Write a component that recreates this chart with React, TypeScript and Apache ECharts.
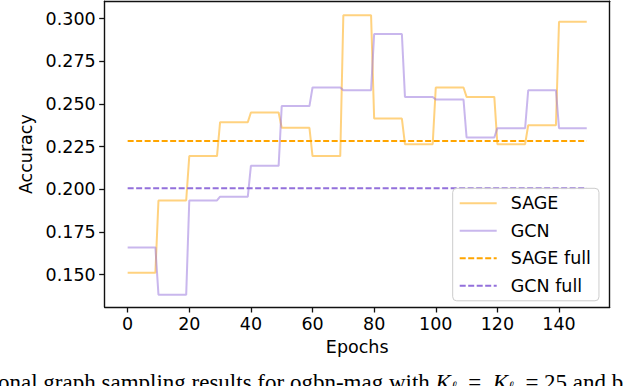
import React, { useEffect, useRef } from "react";
import * as echarts from "echarts";

const blockStarts = [0, 10, 20, 30, 40, 50, 60, 70, 80, 90, 100, 110, 120, 130, 140];
const blockLast = 9;
const sageValues = [0.151, 0.1934, 0.2194, 0.2393, 0.245, 0.236, 0.2194, 0.302, 0.2414, 0.2264, 0.2596, 0.2541, 0.2264, 0.2375, 0.2982];
const gcnValues = [0.1659, 0.1382, 0.1934, 0.1956, 0.2137, 0.2487, 0.2596, 0.258, 0.291, 0.2541, 0.2526, 0.2303, 0.2358, 0.258, 0.2358];
const sageFull = 0.2283;
const gcnFull = 0.2006;
const xTicks = [0, 20, 40, 60, 80, 100, 120, 140];
const yTicks = [0.15, 0.175, 0.2, 0.225, 0.25, 0.275, 0.3];
const seriesNames = ["SAGE", "GCN", "SAGE full", "GCN full"];

const FONT = "DejaVu Sans";
const FS = 17.5;
const X_MIN = -7.45;
const X_MAX = 156.45;
const Y_MIN = 0.13097;
const Y_MAX = 0.31013;

function steps(values: number[]) {
  const out: number[][] = [];
  blockStarts.forEach((s, i) => {
    out.push([s, values[i]]);
    out.push([s + blockLast, values[i]]);
  });
  return out;
}

const spine = () => ({ show: true, onZero: false, lineStyle: { color: "#111", width: 1.4 } });

export default function App() {
  const ref = useRef<HTMLDivElement>(null);
  useEffect(() => {
    if (!ref.current) return;
    const chart = echarts.init(ref.current, null, { renderer: "svg" });
    const first = blockStarts[0];
    const last = blockStarts[blockStarts.length - 1] + blockLast;
    chart.setOption({
      animation: false,
      backgroundColor: "#fff",
      textStyle: { fontFamily: FONT },
      grid: { left: 104.7, right: 30.3, top: 1.3, bottom: 79 },
      xAxis: [
        {
          type: "value",
          min: X_MIN,
          max: X_MAX,
          name: "Epochs",
          nameLocation: "middle",
          nameGap: 31,
          nameTextStyle: { fontSize: FS, color: "#000", fontFamily: FONT },
          axisLine: spine(),
          axisTick: { show: true, length: 5.5, lineStyle: { color: "#111", width: 1.3 }, customValues: xTicks },
          axisLabel: { fontSize: FS, color: "#000", fontFamily: FONT, margin: 8, customValues: xTicks },
          splitLine: { show: false },
        },
        {
          type: "value",
          position: "top",
          min: X_MIN,
          max: X_MAX,
          axisLine: spine(),
          axisTick: { show: false },
          axisLabel: { show: false },
          splitLine: { show: false },
        },
      ],
      yAxis: [
        {
          type: "value",
          min: Y_MIN,
          max: Y_MAX,
          name: "Accuracy",
          nameLocation: "middle",
          nameGap: 62,
          nameTextStyle: { fontSize: FS, color: "#000", fontFamily: FONT },
          axisLine: spine(),
          axisTick: { show: true, length: 5.5, lineStyle: { color: "#111", width: 1.3 }, customValues: yTicks },
          axisLabel: {
            fontSize: FS,
            color: "#000",
            fontFamily: FONT,
            margin: 9,
            customValues: yTicks,
            formatter: (v: number) => v.toFixed(3),
          },
          splitLine: { show: false },
        },
        {
          type: "value",
          position: "right",
          min: Y_MIN,
          max: Y_MAX,
          axisLine: spine(),
          axisTick: { show: false },
          axisLabel: { show: false },
          splitLine: { show: false },
        },
      ],
      legend: {
        orient: "vertical",
        left: 452.7,
        top: 188.3,
        padding: [6, 8, 6, 6],
        itemWidth: 37,
        itemHeight: 14,
        itemGap: 9.5,
        backgroundColor: "rgba(255,255,255,0.8)",
        borderColor: "#cccccc",
        borderWidth: 1,
        borderRadius: 4,
        itemStyle: { opacity: 0 },
        textStyle: { fontSize: FS, color: "#000", fontFamily: FONT, padding: [0, 0, 0, 9] },
        data: seriesNames,
      },
      series: [
        {
          name: seriesNames[0],
          type: "line",
          data: steps(sageValues),
          symbol: "none",
          color: "#FFA500",
          lineStyle: { color: "#FFA500", width: 2, opacity: 0.5 },
        },
        {
          name: seriesNames[1],
          type: "line",
          data: steps(gcnValues),
          symbol: "none",
          color: "#9370DB",
          lineStyle: { color: "#9370DB", width: 2, opacity: 0.5 },
        },
        {
          name: seriesNames[2],
          type: "line",
          data: [[first, sageFull], [last, sageFull]],
          symbol: "none",
          color: "#FFA500",
          lineStyle: { color: "#FFA500", width: 2, type: [6, 2.5] },
        },
        {
          name: seriesNames[3],
          type: "line",
          data: [[first, gcnFull], [last, gcnFull]],
          symbol: "none",
          color: "#9370DB",
          lineStyle: { color: "#9370DB", width: 2, type: [6, 2.5] },
        },
      ],
      graphic: [
        {
          type: "text",
          left: -2,
          top: 371,
          style: {
            text: "{n|onal graph sampling results for ogbn-mag with }{i|K}{s|ℓ}{n|  =  }{i|K}{s|ℓ}{n|  = 25 and b}",
            fill: "#000",
            rich: {
              n: { fontFamily: "Liberation Serif", fontSize: 23, fill: "#000" },
              i: { fontFamily: "Liberation Serif", fontStyle: "italic", fontSize: 23, fill: "#000" },
              s: { fontFamily: "Liberation Serif", fontStyle: "italic", fontSize: 14, fill: "#000", padding: [8, 0, 0, 0] },
            },
          },
        },
      ],
    });
    return () => chart.dispose();
  }, []);
  return (
    <div
      ref={ref}
      style={{ position: "fixed", left: 0, top: 0, width: 640, height: 386, background: "#fff" }}
    />
  );
}
